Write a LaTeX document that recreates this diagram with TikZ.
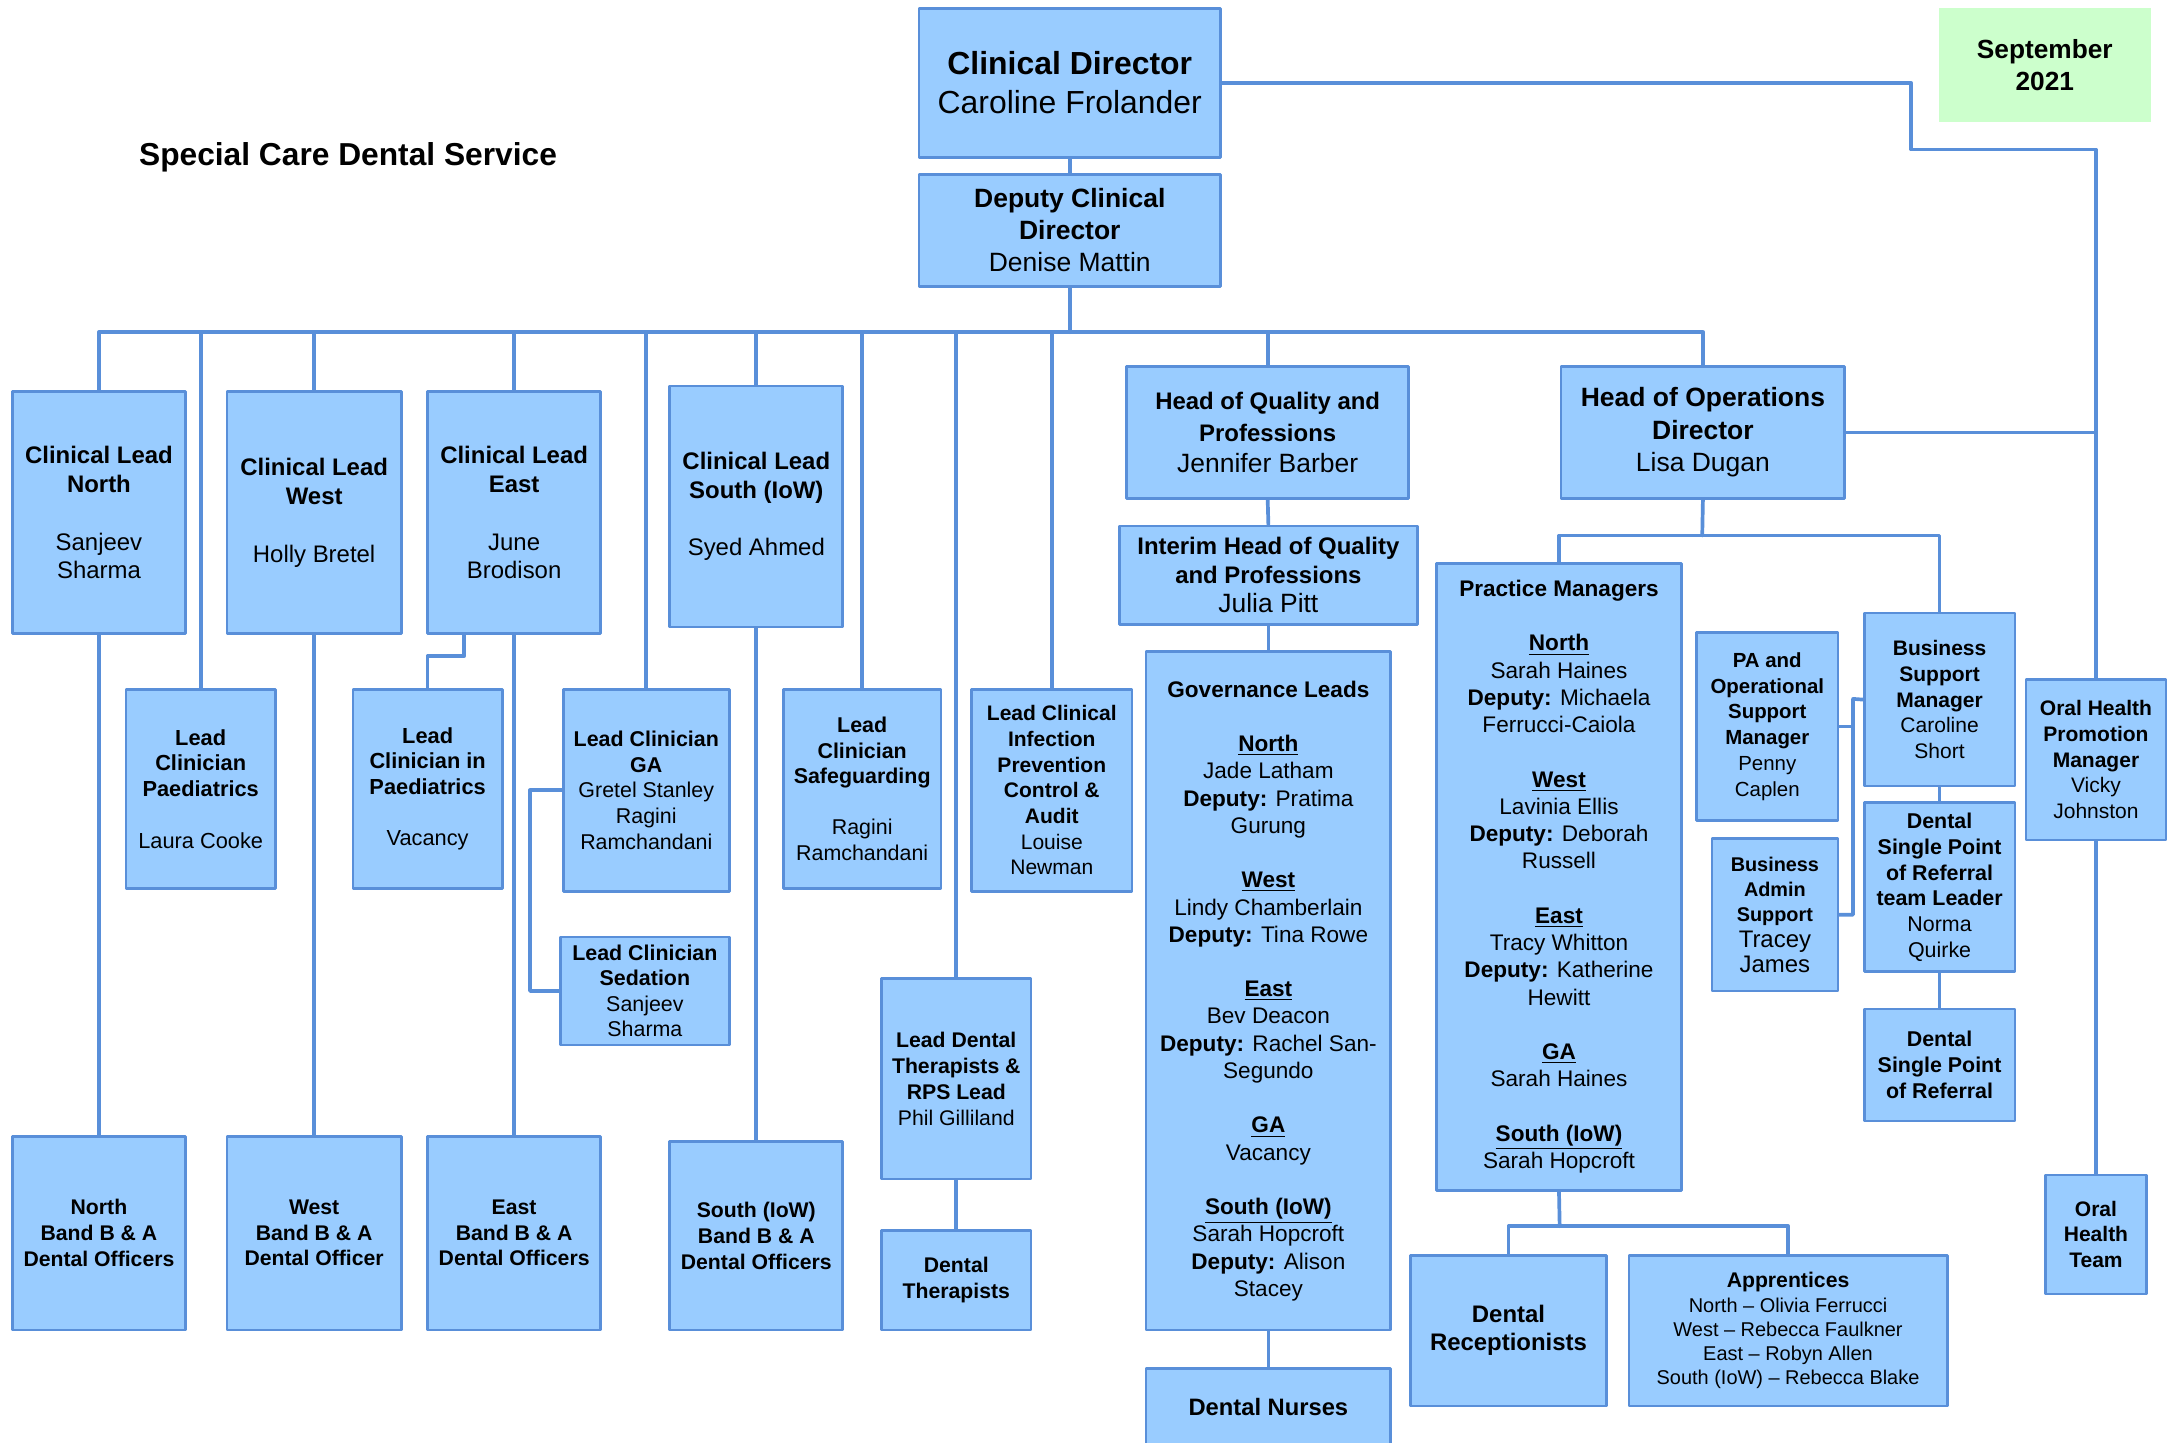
\documentclass[tikz,border=0pt]{standalone}
\usepackage{fontspec}
\setmainfont{Liberation Sans}
\definecolor{zzccff}{rgb}{0.6,0.8,1}
\definecolor{vvygdv}{rgb}{0.35,0.56,0.85}
\definecolor{ccffcc}{rgb}{0.8,1,0.8}
\newcommand{\fsz}[2]{\fontsize{#1}{#2}\selectfont}
\newcommand{\hb}[1]{{\fontsize{12.3}{16}\selectfont\bfseries #1}}
\newcommand{\ub}[1]{\textbf{\underline{#1}}}

\begin{document}
\begin{tikzpicture}[line cap=round,line join=round,x=0.025cm,y=-0.025cm,
box/.style={draw=vvygdv,fill=zzccff,line width=1.4pt,inner sep=0pt,align=center},
wh/.style 2 args={minimum width=#1*0.025cm,minimum height=#2*0.025cm},
link/.style={color=vvygdv,line width=1.9pt}]
\useasboundingbox (0,0) rectangle (1568,1042);
\clip(0,0) rectangle (1568,1042);
\node[font=\fsz{16.3}{19}\bfseries] (title) at (251.5,114) {Special Care Dental Service};
\node[fill=ccffcc,inner sep=0pt,align=center,wh={153}{82},font=\fsz{13.5}{16.4}\bfseries] (sep) at (1477.5,47) {September\\2021};
\node[box,wh={218}{108},font=\fsz{16.4}{20}] (cd) at (773,60) {\textbf{Clinical Director}\\Caroline Frolander};
\node[box,wh={218}{81},font=\fsz{13.6}{16.4}] (dcd) at (773,166.5) {\textbf{Deputy Clinical}\\\textbf{Director}\\Denise Mattin};
%
\node[box,wh={125}{175},font=\fsz{12.3}{14.8}] (cln) at (71.5,370.5) {\textbf{Clinical Lead}\\\textbf{North}\\[\baselineskip]Sanjeev\\Sharma};
\node[box,wh={126}{175},font=\fsz{12.3}{14.8}] (clw) at (227,370.5) {\textbf{Clinical Lead}\\\textbf{West}\\[\baselineskip]Holly Bretel};
\node[box,wh={125}{175},font=\fsz{12.3}{14.8}] (cle) at (371.5,370.5) {\textbf{Clinical Lead}\\\textbf{East}\\[\baselineskip]June\\Brodison};
\node[box,wh={125}{174},font=\fsz{12.3}{14.8}] (cls) at (546.5,366) {\textbf{Clinical Lead}\\\textbf{South (IoW)}\\[\baselineskip]Syed Ahmed};
\node[box,wh={108}{144},font=\fsz{11.2}{13.2}] (lcp) at (145,570) {\textbf{Lead}\\\textbf{Clinician}\\\textbf{Paediatrics}\\[\baselineskip]Laura Cooke};
\node[box,wh={108}{144},font=\fsz{11.2}{13.2}] (lcpe) at (309,570) {\textbf{Lead}\\\textbf{Clinician in}\\\textbf{Paediatrics}\\[\baselineskip]Vacancy};
\node[box,wh={120}{146},font=\fsz{11}{13.2}] (ga) at (467,571) {\textbf{Lead Clinician}\\\textbf{GA}\\Gretel Stanley\\Ragini\\Ramchandani};
\node[box,wh={122}{78},font=\fsz{11}{13.1}] (sed) at (466,716) {\textbf{Lead Clinician}\\\textbf{Sedation}\\Sanjeev\\Sharma};
\node[box,wh={114}{144},font=\fsz{11}{13.1}] (sg) at (623,570) {\textbf{Lead}\\\textbf{Clinician}\\\textbf{Safeguarding}\\[\baselineskip]Ragini\\Ramchandani};
\node[box,wh={116}{146},font=\fsz{10.8}{13.2}] (ipc) at (760,571) {\textbf{Lead Clinical}\\\textbf{Infection}\\\textbf{Prevention}\\\textbf{Control \&}\\\textbf{Audit}\\Louise\\Newman};
\node[box,wh={108}{145},font=\fsz{10.9}{13.3}] (ldt) at (691,779.5) {\textbf{Lead Dental}\\\textbf{Therapists \&}\\\textbf{RPS Lead}\\Phil Gilliland};
\node[box,wh={108}{72},font=\fsz{10.9}{13}\bfseries] (dt) at (691,925) {Dental\\Therapists};
\node[box,wh={125}{140},font=\fsz{10.9}{13.2}\bfseries] (nbd) at (71.5,891) {North\\Band B \& A\\Dental Officers};
\node[box,wh={126}{140},font=\fsz{10.9}{13.2}\bfseries] (wbd) at (227,891) {West\\Band B \& A\\Dental Officer};
\node[box,wh={125}{140},font=\fsz{10.9}{13.2}\bfseries] (ebd) at (371.5,891) {East\\Band B \& A\\Dental Officers};
\node[box,wh={125}{136},font=\fsz{10.9}{13.2}\bfseries] (sbd) at (546.5,893) {South (IoW)\\Band B \& A\\Dental Officers};
%
\node[box,wh={204}{95},font=\fsz{13.6}{16}] (hq) at (916,312.5) {\hb{Head of Quality and}\\\hb{Professions}\\Jennifer Barber};
\node[box,wh={215}{71},font=\fsz{13.6}{15}] (ihq) at (916.5,415.5) {\hb{Interim Head of Quality}\\\hb{and Professions}\\Julia Pitt};
\node[box,wh={177}{490},font=\fsz{11.6}{14}] (gov) at (916.5,716) {\textbf{Governance Leads}\\[\baselineskip]
\ub{North}\\Jade Latham\\\textbf{Deputy:} Pratima\\Gurung\\[\baselineskip]
\ub{West}\\Lindy Chamberlain\\\textbf{Deputy:} Tina Rowe\\[\baselineskip]
\ub{East}\\Bev Deacon\\\textbf{Deputy:} Rachel San-\\Segundo\\[\baselineskip]
\ub{GA}\\Vacancy\\[\baselineskip]
\ub{South (IoW)}\\Sarah Hopcroft\\\textbf{Deputy:} Alison\\Stacey};
\node[box,wh={177}{56},font=\fsz{12.2}{14}\bfseries] (dn) at (916.5,1017) {Dental Nurses};
%
\node[box,wh={205}{95},font=\fsz{13.6}{16.7}] (hop) at (1230.5,312.5) {\textbf{Head of Operations}\\\textbf{Director}\\Lisa Dugan};
\node[box,wh={177}{453},font=\fsz{11.6}{14}] (pm) at (1126.5,633.5) {\textbf{Practice Managers}\\[\baselineskip]
\ub{North}\\Sarah Haines\\\textbf{Deputy:} Michaela\\Ferrucci-Caiola\\[\baselineskip]
\ub{West}\\Lavinia Ellis\\\textbf{Deputy:} Deborah\\Russell\\[\baselineskip]
\ub{East}\\Tracy Whitton\\\textbf{Deputy:} Katherine\\Hewitt\\[\baselineskip]
\ub{GA}\\Sarah Haines\\[\baselineskip]
\ub{South (IoW)}\\Sarah Hopcroft};
\node[box,wh={142}{109},font=\fsz{12.3}{14.4}\bfseries] (rec) at (1090,961.5) {Dental\\Receptionists};
\node[box,wh={230}{109},font=\fsz{10.25}{12.45}] (app) at (1292,961.5) {{\fsz{10.9}{12.8}\bfseries Apprentices}\\North -- Olivia Ferrucci\\West -- Rebecca Faulkner\\East -- Robyn Allen\\South (IoW) -- Rebecca Blake};
\node[box,wh={102}{136},font=\fsz{10.5}{13.3}] (pa) at (1277,525) {\textbf{PA and}\\\textbf{Operational}\\\textbf{Support}\\\textbf{Manager}\\Penny\\Caplen};
\node[box,wh={91}{110},font=\fsz{10.2}{13}] (ba) at (1282.5,661) {\textbf{Business}\\\textbf{Admin}\\\textbf{Support}\\{\fsz{12.3}{14}Tracey}\\{\fsz{12.3}{14}James}};
\node[box,wh={109}{125},font=\fsz{10.8}{13.2}] (bsm) at (1401.5,505.5) {\textbf{Business}\\\textbf{Support}\\\textbf{Manager}\\Caroline\\Short};
\node[box,wh={109}{122},font=\fsz{11}{13.2}] (spl) at (1401.5,641) {\textbf{Dental}\\\textbf{Single Point}\\\textbf{of Referral}\\\textbf{team Leader}\\Norma\\Quirke};
\node[box,wh={109}{81},font=\fsz{11}{13.2}\bfseries] (spr) at (1401.5,769.5) {Dental\\Single Point\\of Referral};
\node[box,wh={101}{116},font=\fsz{10.8}{13.2}] (ohp) at (1514.5,549) {\textbf{Oral Health}\\\textbf{Promotion}\\\textbf{Manager}\\Vicky\\Johnston};
\node[box,wh={73}{86},font=\fsz{10.8}{13.2}\bfseries] (oht) at (1514.5,892) {Oral\\Health\\Team};
%
\coordinate (bus) at (773,240);
\coordinate (opsbus) at (1230,387);
\coordinate (pmbus) at (1127,886);
\coordinate (supj) at (1339,505);
\coordinate (kink) at (1381,108);
\draw[link] (cd.south) -- (dcd.north);
\draw[link] (dcd.south) -- (bus);
\foreach \n in {cln,lcp,clw,cle,ga,cls,sg,ldt,ipc,hq,hop}
\draw[link] (\n.north) |- (bus);
\foreach \a/\b in {cln/nbd,clw/wbd,cle/ebd,cls/sbd,ldt/dt,hq/ihq,ihq/gov,gov/dn,bsm/spl,spl/spr,ohp/oht}
\draw[link] (\a.south) -- (\b.north);
\draw[link] (cle.south) ++(-36,0) -- ++(0,15) -| (lcpe.north);
\draw[link] (ga.west) -- ++(-23,0) |- (sed.west);
\draw[link] (hop.south) -- (opsbus);
\draw[link] (pm.north) |- (opsbus);
\draw[link] (bsm.north) |- (opsbus);
\draw[link] (pm.south) -- (pmbus);
\draw[link] (rec.north) |- (pmbus);
\draw[link] (app.north) |- (pmbus);
\draw[link] (bsm.west) -- (supj) |- (ba.east);
\draw[link] (pa.east) -- (pa.east -| supj);
\draw[link] (cd.east) -| (kink) -| (ohp.north);
\draw[link] (hop.east) -- (hop.east -| ohp.north);
\end{tikzpicture}
\end{document}
